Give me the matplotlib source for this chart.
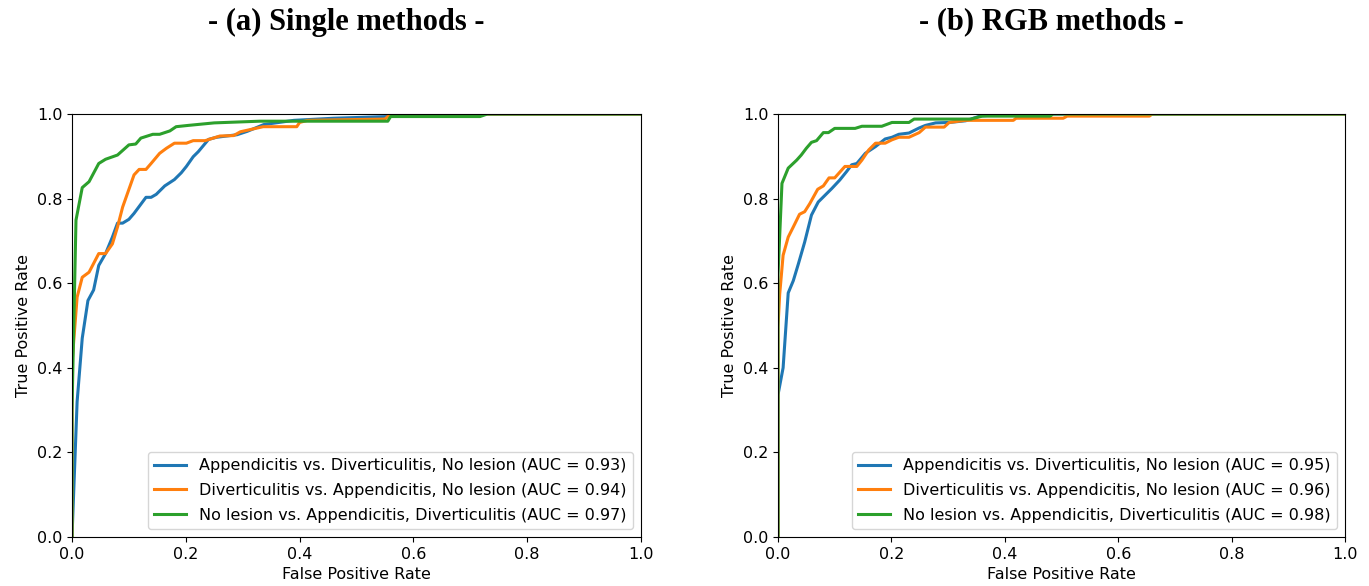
import numpy as np
import matplotlib.pyplot as plt

# (a) Single methods
a_app_fpr = [0, 0.009, 0.018, 0.028, 0.038, 0.047, 0.059, 0.071, 0.080, 0.089, 0.10, 0.109, 0.130, 0.139,
             0.148, 0.163, 0.180, 0.192, 0.201, 0.213, 0.222, 0.24, 0.254, 0.29, 0.308, 0.337, 0.39, 0.46,
             0.555, 0.56, 1.0]
a_app_tpr = [0, 0.32, 0.47, 0.559, 0.584, 0.642, 0.67, 0.709, 0.742, 0.742, 0.751, 0.765, 0.803, 0.803,
             0.81, 0.83, 0.845, 0.861, 0.876, 0.899, 0.911, 0.94, 0.945, 0.951, 0.959, 0.975, 0.985, 0.99,
             0.994, 1.0, 1.0]
a_div_fpr = [0, 0, 0.009, 0.018, 0.030, 0.047, 0.059, 0.071, 0.080, 0.089, 0.109, 0.118, 0.130, 0.139,
             0.154, 0.166, 0.180, 0.201, 0.213, 0.234, 0.26, 0.284, 0.296, 0.336, 0.395, 0.40, 0.414,
             0.55, 0.56, 1.0]
a_div_tpr = [0, 0.41, 0.567, 0.614, 0.626, 0.67, 0.67, 0.693, 0.733, 0.78, 0.856, 0.869, 0.869, 0.883,
             0.907, 0.919, 0.931, 0.931, 0.937, 0.937, 0.948, 0.949, 0.958, 0.97, 0.97, 0.98, 0.985,
             0.988, 1.0, 1.0]
a_nol_fpr = [0, 0, 0.007, 0.018, 0.030, 0.047, 0.059, 0.080, 0.10, 0.112, 0.121, 0.142, 0.154, 0.172,
             0.183, 0.204, 0.25, 0.33, 0.555, 0.56, 0.717, 0.73, 1.0]
a_nol_tpr = [0, 0.3, 0.749, 0.826, 0.84, 0.883, 0.893, 0.903, 0.927, 0.929, 0.943, 0.952, 0.952, 0.96,
             0.97, 0.973, 0.979, 0.983, 0.983, 0.994, 0.994, 1.0, 1.0]

# (b) RGB methods
b_app_fpr = [0, 0, 0.009, 0.018, 0.027, 0.036, 0.047, 0.059, 0.071, 0.080, 0.095, 0.109, 0.121, 0.130,
             0.139, 0.154, 0.172, 0.189, 0.201, 0.213, 0.231, 0.249, 0.26, 0.278, 0.302, 0.331, 0.356, 0.40,
             1.0]
b_app_tpr = [0, 0.336, 0.40, 0.577, 0.606, 0.646, 0.697, 0.761, 0.792, 0.804, 0.824, 0.844, 0.864, 0.88,
             0.883, 0.907, 0.923, 0.941, 0.945, 0.952, 0.955, 0.967, 0.973, 0.979, 0.98, 0.984, 0.995, 1.0,
             1.0]
b_div_fpr = [0, 0, 0.003, 0.009, 0.018, 0.027, 0.038, 0.047, 0.056, 0.070, 0.080, 0.090, 0.10, 0.118,
             0.139, 0.148, 0.160, 0.172, 0.189, 0.201, 0.213, 0.231, 0.249, 0.26, 0.293, 0.302, 0.33, 0.415,
             0.42, 0.503, 0.51, 0.655, 0.66, 1.0]
b_div_tpr = [0, 0.497, 0.574, 0.666, 0.709, 0.733, 0.763, 0.769, 0.788, 0.822, 0.83, 0.849, 0.849, 0.876,
             0.876, 0.891, 0.915, 0.931, 0.931, 0.939, 0.945, 0.945, 0.956, 0.969, 0.969, 0.98, 0.985, 0.985,
             0.99, 0.99, 0.995, 0.995, 1.0, 1.0]
b_nol_fpr = [0, 0, 0.007, 0.018, 0.033, 0.041, 0.050, 0.059, 0.068, 0.080, 0.089, 0.10, 0.136, 0.148,
             0.183, 0.201, 0.231, 0.24, 0.34, 0.36, 0.48, 0.485, 1.0]
b_nol_tpr = [0, 0.62, 0.836, 0.872, 0.891, 0.903, 0.919, 0.933, 0.937, 0.956, 0.956, 0.966, 0.966, 0.971,
             0.971, 0.98, 0.98, 0.988, 0.988, 0.995, 0.995, 1.0, 1.0]

labels = ["Appendicitis vs. Diverticulitis, No lesion",
          "Diverticulitis vs. Appendicitis, No lesion",
          "No lesion vs. Appendicitis, Diverticulitis"]
auc_a = [0.93, 0.94, 0.97]
auc_b = [0.95, 0.96, 0.98]
titles = ["- (a) Single methods -", "- (b) RGB methods -"]

fig = plt.figure(figsize=(13.69, 5.86), dpi=100)
ax1 = fig.add_axes([72/1369, 1-537/586, 569/1369, 423/586])
ax2 = fig.add_axes([778/1369, 1-537/586, 567/1369, 423/586])

panels = [(ax1, [(a_app_fpr, a_app_tpr), (a_div_fpr, a_div_tpr), (a_nol_fpr, a_nol_tpr)], auc_a),
          (ax2, [(b_app_fpr, b_app_tpr), (b_div_fpr, b_div_tpr), (b_nol_fpr, b_nol_tpr)], auc_b)]
colors = ['#1f77b4', '#ff7f0e', '#2ca02c']

for k, (ax, curves, aucs) in enumerate(panels):
    for (fpr, tpr), lab, auc, c in zip(curves, labels, aucs, colors):
        ax.plot(fpr, tpr, color=c, lw=2.2, label="%s (AUC = %.2f)" % (lab, auc))
    ax.set_xlim(0, 1)
    ax.set_ylim(0, 1)
    ax.set_xlabel("False Positive Rate", fontsize=11.5)
    ax.set_ylabel("True Positive Rate", fontsize=11.5)
    ax.tick_params(labelsize=11.5)
    ax.legend(loc="lower right", fontsize=11.5, labelspacing=0.6)
    pos = ax.get_position()
    # titles sit a little left of the axes centre
    fig.text((pos.x0 + pos.x1) / 2 - 10/1369, 1 - 22/586, titles[k],
             ha='center', va='center', fontsize=22, fontweight='bold', family='Liberation Serif')

fig.savefig("out.png", dpi=100)
